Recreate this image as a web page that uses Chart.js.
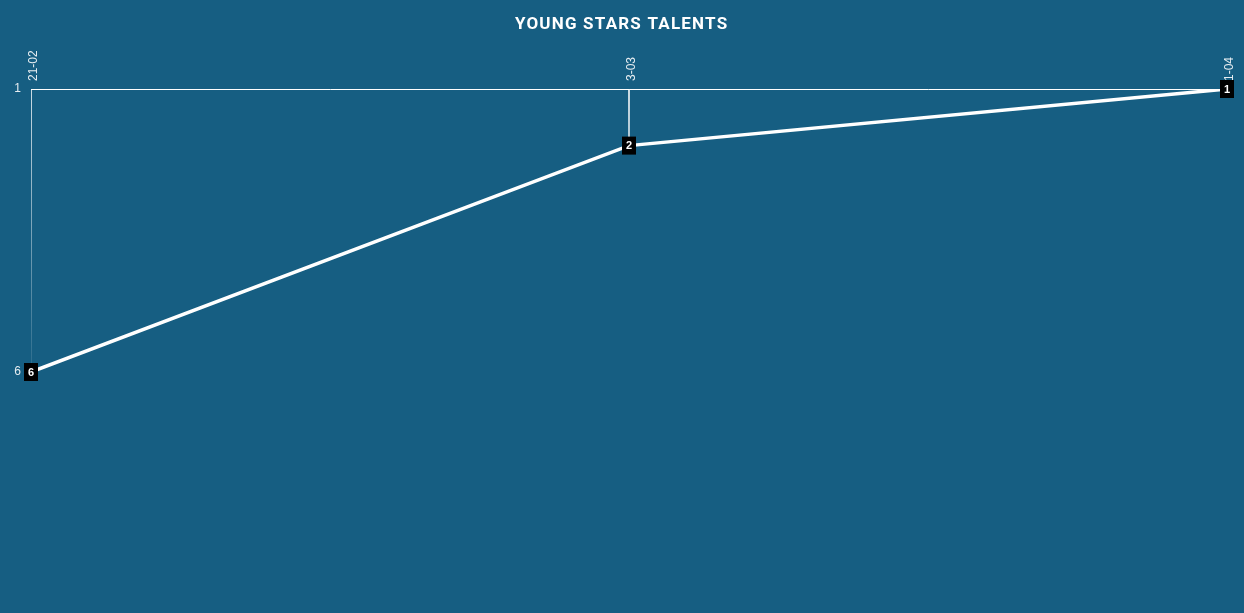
<!DOCTYPE html>
<html>
<head>
<meta charset="utf-8">
<script src="https://cdn.jsdelivr.net/npm/chart.js@4"></script>
<style>
  html, body { margin: 0; padding: 0; background: #165e82; }
  #wrap { width: 1244px; height: 613px; }
</style>
</head>
<body>
<div id="wrap"><canvas id="rankChart" width="1244" height="613"></canvas></div>
<script>
// values
const months = ['21-02', '3-03', '1-04']
const ranks = [6, 2, 1]
const rankTicks = [1, 6]
const chartTitle = 'YOUNG STARS TALENTS'

// spaced-out title on top
const spacedTitle = {
  id: 'spacedTitle',
  afterDraw(chart) {
    const ctx = chart.ctx
    ctx.save()
    ctx.font = 'bold 17px Roboto, "Liberation Sans", sans-serif'
    ctx.letterSpacing = '1.2px'
    ctx.fillStyle = '#ffffff'
    ctx.textAlign = 'center'
    ctx.textBaseline = 'middle'
    ctx.fillText(chartTitle, chart.width / 2 - 0.4, 24.5)
    ctx.restore()
  }
}

// rank box + number over each point
const rankBoxes = {
  id: 'rankBoxes',
  afterDatasetsDraw(chart) {
    const ctx = chart.ctx
    const meta = chart.getDatasetMeta(1)
    ctx.save()
    ctx.font = 'bold 11px "Liberation Sans", Arial, sans-serif'
    ctx.textAlign = 'center'
    ctx.textBaseline = 'middle'
    meta.data.forEach((pt, i) => {
      ctx.fillStyle = '#000'
      ctx.fillRect(pt.x - 7, pt.y - 9, 14, 18)
      ctx.fillStyle = '#fff'
      ctx.fillText(String(ranks[i]), pt.x, pt.y + 0.5)
    })
    ctx.restore()
  }
}

const dropFill = (c) => {
  const area = c.chart.chartArea
  if (!area) return 'rgba(255,255,255,0.6)'
  const g = c.chart.ctx.createLinearGradient(0, area.top, 0, area.bottom)
  g.addColorStop(0, 'rgba(255,255,255,0.95)')
  g.addColorStop(1, 'rgba(255,255,255,0.1)')
  return g
}

new Chart(document.getElementById('rankChart'), {
  data: {
    labels: months,
    datasets: [
      {
        type: 'bar',
        data: ranks.map(r => [rankTicks[0], r]),
        backgroundColor: dropFill,
        barThickness: 1,
        order: 2
      },
      {
        type: 'line',
        data: ranks,
        borderColor: '#ffffff',
        borderWidth: 3.5,
        pointRadius: 0,
        tension: 0,
        order: 1
      }
    ]
  },
  options: {
    responsive: false,
    animation: false,
    layout: { padding: { left: 0, right: 17, bottom: 241, top: 34 } },
    plugins: {
      legend: { display: false },
      tooltip: { enabled: false },
      title: { display: false }
    },
    scales: {
      x: {
        position: 'top',
        offset: false,
        grid: { display: true, color: 'rgba(0,0,0,0)', drawTicks: false, offset: false },
        border: { display: true, color: '#ffffff', width: 1 },
        ticks: {
          color: '#e6edf1',
          font: { family: '"Liberation Sans", Arial, sans-serif', size: 12 },
          minRotation: 90,
          maxRotation: 90,
          labelOffset: 17,
          padding: 8
        },
        afterFit: s => { s.height = 55 }
      },
      y: {
        reverse: true,
        min: rankTicks[0],
        max: rankTicks[1],
        grid: { display: false },
        border: { display: false },
        afterBuildTicks: s => { s.ticks = rankTicks.map(v => ({ value: v })) },
        ticks: {
          color: '#e6edf1',
          font: { family: '"Liberation Sans", Arial, sans-serif', size: 12 },
          padding: 2
        },
        afterFit: s => { s.width = 31 }
      }
    }
  },
  plugins: [rankBoxes, spacedTitle]
})
</script>
</body>
</html>
